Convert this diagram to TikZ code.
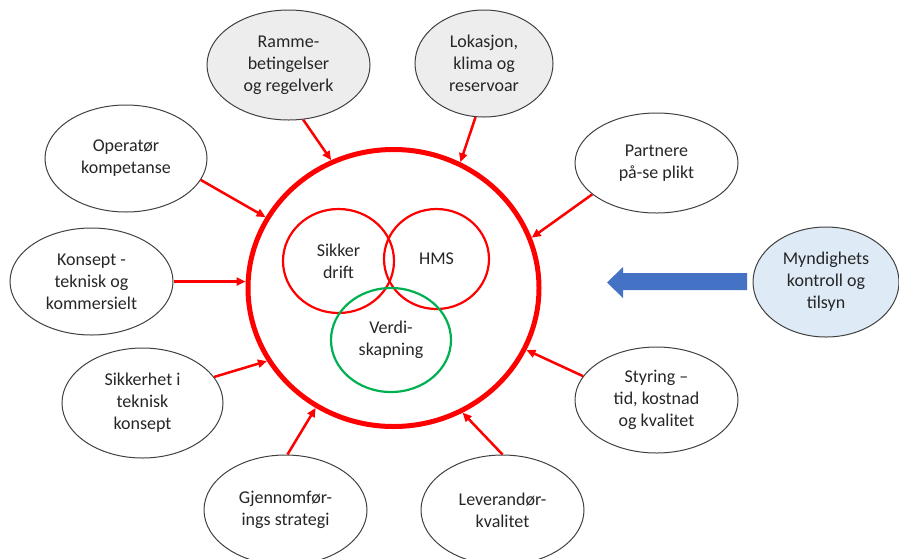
\documentclass[tikz,border=0pt]{standalone}
\usepackage{fontspec}
\setmainfont{Carlito}
\usetikzlibrary{shapes.geometric,arrows.meta}
\definecolor{txt}{HTML}{262626}
\definecolor{edge}{HTML}{404040}
\definecolor{grayfill}{HTML}{EDEDED}
\definecolor{bluefill}{HTML}{DEEBF7}
\definecolor{arrowblue}{HTML}{4472C4}
\definecolor{vgreen}{HTML}{00B050}
\begin{document}
\begin{tikzpicture}[x=1pt,y=-1pt,
  oval/.style={ellipse,draw=edge,line width=1pt,inner sep=0pt,align=center,text=txt,font=\fontsize{18}{22}\selectfont},
  venn/.style={ellipse,line width=2.2pt,inner sep=0pt,align=center,text=txt,font=\fontsize{18}{22}\selectfont},
  feed/.style={draw=red,line width=2.5pt,-{Triangle[length=9pt,width=8pt]}}]
\useasboundingbox (0,0) rectangle (899,558);

\node[ellipse,draw=red,line width=5pt,inner sep=0pt,minimum width=291pt,minimum height=277pt] (big) at (393.5,288) {};

\node[venn,draw=red,minimum width=111pt,minimum height=104pt] (sikker) at (338.5,261) {Sikker\\drift};
\node[venn,draw=red,minimum width=105pt,minimum height=100pt] (hms) at (436.5,259) {HMS};
\node[venn,draw=vgreen,minimum width=120pt,minimum height=104pt] (verdi) at (391,340) {Verdi-\\skapning};

\node[oval,fill=grayfill,minimum width=163pt,minimum height=110pt] (ramme) at (288.5,65) {Ramme-\\betingelser\\og regelverk};
\node[oval,fill=grayfill,minimum width=138pt,minimum height=107pt] (lok) at (484,63.5) {Lokasjon,\\klima og\\reservoar};
\node[oval,minimum width=162pt,minimum height=107pt] (oper) at (126,158.5) {Operatør\\kompetanse};
\node[oval,minimum width=163pt,minimum height=107pt] (konsept) at (91.5,281.5) {Konsept -\\teknisk og\\kommersielt};
\node[oval,minimum width=161pt,minimum height=110pt] (sikk) at (142.5,403) {Sikkerhet i\\teknisk\\konsept};
\node[oval,minimum width=163pt,minimum height=100pt] (partn) at (656.5,163) {Partnere\\på-se plikt};
\node[oval,fill=bluefill,minimum width=146pt,minimum height=110pt] (mynd) at (826,282) {Myndighets\\kontroll og\\tilsyn};
\node[oval,minimum width=163pt,minimum height=106pt] (styr) at (656.5,400) {Styring –\\tid, kostnad\\og kvalitet};
\node[oval,minimum width=163pt,minimum height=110pt] (gjen) at (285.5,510) {Gjennomfør-\\ings strategi};
\node[oval,minimum width=163pt,minimum height=110pt] (lev) at (502.5,510) {Leverandør-\\kvalitet};

\draw[feed] (ramme.-75) -- (big.116);
\draw[feed] (lok.-99) -- (big.62);
\draw[feed] (oper.-16) -- (big.151);
\draw[feed] (konsept.east) -- (konsept.east -| big.west);
\draw[feed] (sikk.20) -- (big.210);
\draw[feed] (partn.206) -- (big.20.5);
\draw[feed] (styr.162) -- (big.-25);
\draw[feed] (gjen.88) -- (big.237);
\draw[feed] (lev.90) -- (big.-61);

\coordinate (bluetail) at (747,282.5);
\fill[arrowblue] (bluetail) ++(0,-9.5) -- (623,273) -- (623,267) -- (607,282.5) -- (623,298) -- (623,290) -- (747,290) -- cycle;
\end{tikzpicture}
\end{document}
